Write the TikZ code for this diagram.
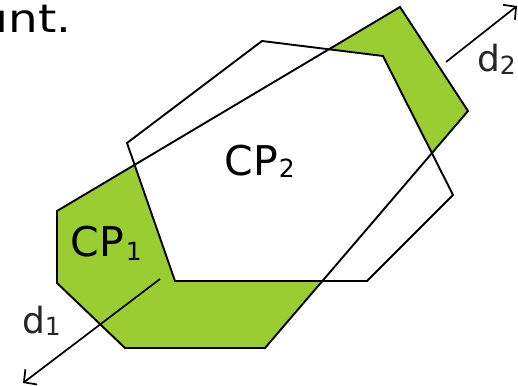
\documentclass[tikz,border=0pt]{standalone}
\usepackage{fontspec}
\setmainfont{DejaVu Sans}
\newfontfamily\topfont[FakeStretch=1.2]{DejaVu Sans}
\usetikzlibrary{arrows.meta}
\definecolor{cpgreen}{RGB}{154,205,50}
\tikzset{
  outline/.style={draw=black, line width=1.9pt, line join=miter},
  axisline/.style={draw=black, line width=1.7pt,
    -{Straight Barb[length=9pt,width=19pt,line width=1.7pt]}},
  lbl/.style={inner sep=0pt, outer sep=0pt, anchor=base west},
  cplabel/.style={lbl, font=\fontsize{41}{41}\selectfont},
  dlabel/.style={lbl, text=black!85, font=\fontsize{36}{36}\selectfont},
}
\newcommand{\mysub}[2]{\raisebox{#1}{\fontsize{25}{25}\selectfont #2}}
\begin{document}
\begin{tikzpicture}[x=1pt,y=-1pt]
\useasboundingbox (0,0) rectangle (518,385);
% polygon A (CP1)
\coordinate (a1) at (57,211);
\coordinate (a2) at (57,283);
\coordinate (a3) at (125,348);
\coordinate (a4) at (265,348);
\coordinate (a5) at (468,111);
\coordinate (a6) at (400,7);
% polygon B (CP2)
\coordinate (b1) at (127,143);
\coordinate (b2) at (175,281);
\coordinate (b3) at (367,281);
\coordinate (b4) at (453,195);
\coordinate (b5) at (383,56);
\coordinate (b6) at (262,41);
\fill[cpgreen] (a1)--(a2)--(a3)--(a4)--(a5)--(a6)--cycle;
\fill[white] (b1)--(b2)--(b3)--(b4)--(b5)--(b6)--cycle;
\draw[outline] (a1)--(a2)--(a3)--(a4)--(a5)--(a6)--cycle;
\draw[outline] (b1)--(b2)--(b3)--(b4)--(b5)--(b6)--cycle;
% axis d
\coordinate (d1start) at (160,279);
\coordinate (d1tip) at (23,383);
\coordinate (d2start) at (446,62);
\coordinate (d2tip) at (517,6);
\draw[axisline] (d1start) -- (d1tip);
\draw[axisline] (d2start) -- (d2tip);
% labels
\node[cplabel] (cp1) at (70.5,256) {CP\kern2pt\mysub{-4pt}{1}};
\node[cplabel] (cp2) at (224.5,175) {CP\kern1pt\mysub{-2.5pt}{2}};
\node[dlabel] (d1) at (22,333) {d\mysub{-2pt}{1}};
\node[dlabel] (d2) at (477,72) {d\mysub{-3pt}{2}};
% clipped caption fragment
\begin{scope}
\clip (-5,10) -- (8,10) -- (8,-5) -- (120,-5) -- (120,60) -- (-5,60) -- cycle;
\node[lbl, font=\topfont\fontsize{39}{39}\selectfont] (top) at (-4.4,33) {int.};
\end{scope}
\end{tikzpicture}
\end{document}
